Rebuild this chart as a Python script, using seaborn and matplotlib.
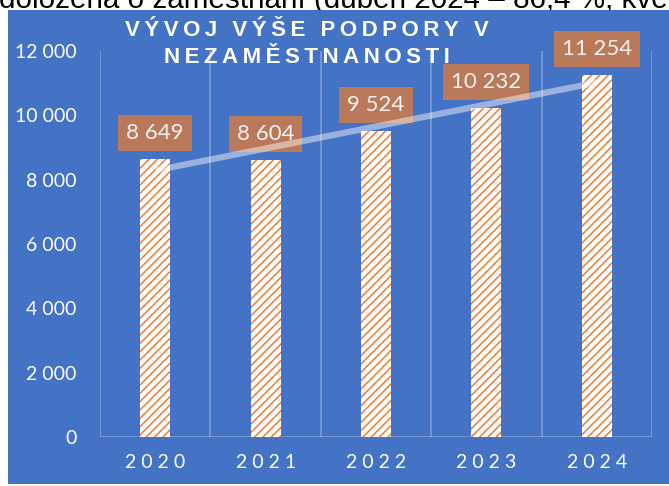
import numpy as np
import pandas as pd
import matplotlib
matplotlib.use("Agg")
import matplotlib.pyplot as plt
import seaborn as sns
from matplotlib.patches import Rectangle

# data
years = ["2020", "2021", "2022", "2023", "2024"]
values = [8649, 8604, 9524, 10232, 11254]
value_labels = ["8 649", "8 604", "9 524", "10 232", "11 254"]
y_ticks = [0, 2000, 4000, 6000, 8000, 10000, 12000]
y_tick_labels = ["0", "2 000", "4 000", "6 000", "8 000", "10 000", "12 000"]
title_lines = ["VÝVOJ VÝŠE PODPORY V", "NEZAMĚSTNANOSTI"]
top_text = "doložena o zaměstnání (duben 2024 – 86,4 %, kvě"

df = pd.DataFrame({"rok": years, "podpora": values})

BLUE = "#4472C4"
ORANGE = "#ED7D31"
BOX = "#B9795A"
SP = "\u2009"  # thin space, imitates the letter spacing

sns.set_theme(style="white")
plt.rcParams["font.family"] = ["Lato", "DejaVu Sans"]
plt.rcParams["hatch.linewidth"] = 1.1

W, H = 669, 486
fig = plt.figure(figsize=(W / 100, H / 100), dpi=100)
fig.patch.set_facecolor("white")

# text of the page above the chart (cut off in the reference too)
fig.text(-1 / W, 1 - 8 / H, top_text, fontsize=21.3, color="black", va="baseline",
         family=["Liberation Sans", "DejaVu Sans"], zorder=0)

# blue chart background
fig.add_artist(Rectangle((8 / W, 2 / H), 1, 474 / H, transform=fig.transFigure,
                         facecolor=BLUE, edgecolor="none", zorder=1))

ax = fig.add_axes([100 / W, 49 / H, 552 / W, 386 / H])
ax.set_zorder(2)
ax.patch.set_alpha(0)

sns.barplot(data=df, x="rok", y="podpora", color="white", saturation=1, width=0.27,
            edgecolor=ORANGE, linewidth=0, hatch="////", ax=ax, zorder=2)

# category separators + bottom line
for b in np.arange(-0.5, 5, 1):
    ax.axvline(b, color="white", alpha=0.3, lw=1.2, zorder=1)
ax.axhline(0, color="white", alpha=0.3, lw=1.2, zorder=1)

# linear trend
coef = np.polyfit(np.arange(len(values)), values, 1)
xs = np.array([0, len(values) - 1])
ax.plot(xs, np.polyval(coef, xs), color="white", alpha=0.45, lw=4.5,
        solid_capstyle="butt", zorder=5)

for i, (v, lab) in enumerate(zip(values, value_labels)):
    ax.annotate(lab, (i, v), xytext=(0, 26), textcoords="offset pixels",
                ha="center", va="center", fontsize=16, color="#F2F2F2",
                bbox=dict(boxstyle="square,pad=0.36", fc=BOX, ec="none"), zorder=4)

ax.set_xlim(-0.5, 4.5)
ax.set_ylim(0, 12000)
ax.set_yticks(y_ticks, y_tick_labels)
ax.set_xticks(range(len(years)), [" ".join(y) for y in years])
ax.tick_params(axis="y", length=0, pad=17, labelsize=14, labelcolor="white")
ax.tick_params(axis="x", length=0, pad=12, labelsize=14, labelcolor="white")
ax.set_xlabel("")
ax.set_ylabel("")
sns.despine(ax=ax, left=True, bottom=True)

for line, yb in zip(title_lines, [36, 63]):
    fig.text(307 / W, 1 - yb / H, SP.join(line), ha="center", va="baseline",
             fontsize=16, fontweight="bold", color="white",
             family=["Liberation Sans", "DejaVu Sans"], zorder=3)

fig.savefig("out.png", dpi=100)
